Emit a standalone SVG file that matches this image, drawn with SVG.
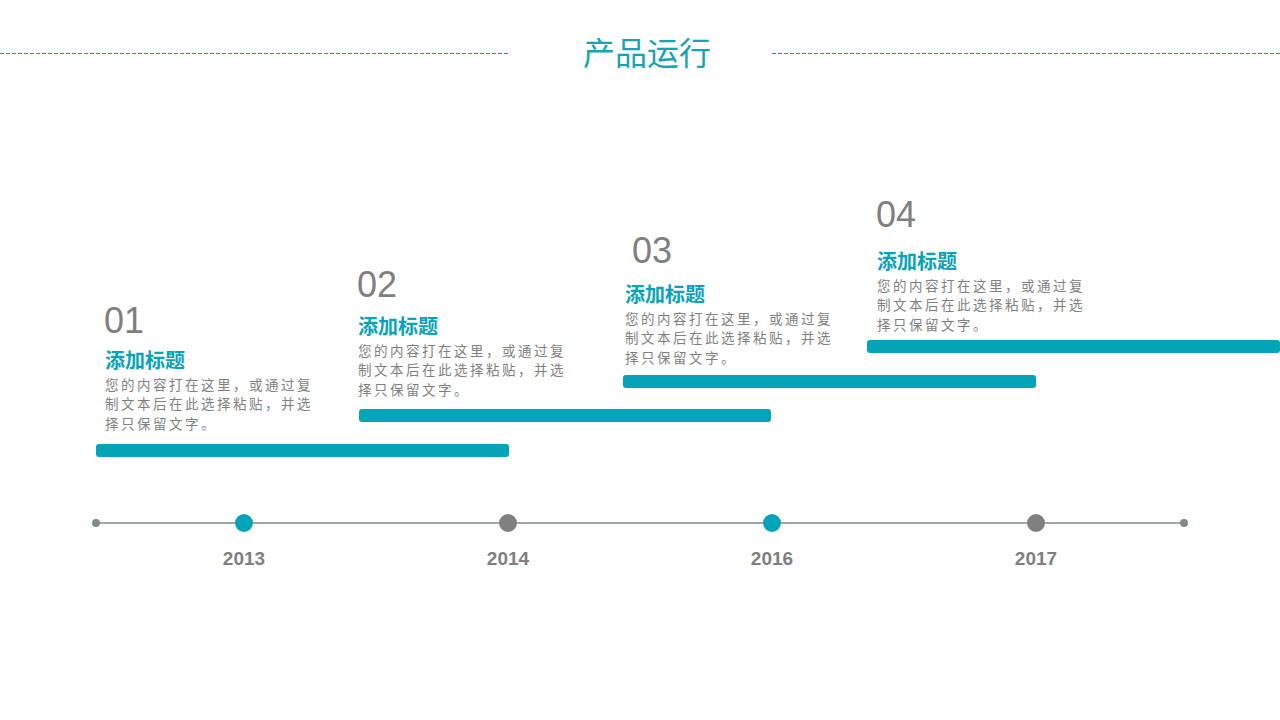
<svg xmlns="http://www.w3.org/2000/svg" width="1280" height="720" viewBox="0 0 1280 720">
<style>
.num{font-family:"Liberation Sans",Arial,sans-serif;font-size:36px;fill:#7f7f7f;}
.ttl{font-family:"Noto Sans CJK SC","Liberation Sans",sans-serif;font-size:20px;font-weight:bold;fill:#07a3b9;}
.body{font-family:"Noto Sans CJK SC","Liberation Sans",sans-serif;font-size:13.5px;letter-spacing:2.5px;fill:#7f7f7f;}
.year{font-family:"Liberation Sans",Arial,sans-serif;font-size:19px;font-weight:bold;fill:#7f7f7f;text-anchor:middle;}
.bar{fill:#05a4b9;}
.dash{stroke:#00a3b8;stroke-width:1.2;stroke-dasharray:4 2;}
</style>
<rect width="1280" height="720" fill="#ffffff"/>
<g id="header">
<line class="dash" x1="0" y1="53.5" x2="508" y2="53.5"/>
<line class="dash" x1="772" y1="53.5" x2="1280" y2="53.5"/>
<text x="647" y="65" text-anchor="middle" font-family="Noto Sans CJK SC,Liberation Sans,sans-serif" font-size="32" fill="#1aa2b3">产品运行</text>
</g>
<g id="connectors">
<line x1="96" y1="523" x2="1184" y2="523" stroke="#7f8c8c" stroke-width="1.5"/>
<circle cx="96" cy="523" r="4" fill="#7f8c8c"/>
<circle cx="1184" cy="523" r="4" fill="#7f8c8c"/>
</g>
<g id="node-2013">
<circle cx="244" cy="523" r="9" fill="#05a4b9"/>
<text class="year" x="244" y="565">2013</text>
</g>
<g id="node-2014">
<circle cx="508" cy="523" r="9" fill="#808080"/>
<text class="year" x="508" y="565">2014</text>
</g>
<g id="node-2016">
<circle cx="772" cy="523" r="9" fill="#05a4b9"/>
<text class="year" x="772" y="565">2016</text>
</g>
<g id="node-2017">
<circle cx="1036" cy="523" r="9" fill="#808080"/>
<text class="year" x="1036" y="565">2017</text>
</g>
<g id="step-01">
<rect class="bar" x="96" y="444" width="413" height="13" rx="3"/>
<text class="num" x="104" y="333">01</text>
<text class="ttl" x="105" y="368">添加标题</text>
<text class="body" x="105" y="389.5">您的内容打在这里，或通过复</text>
<text class="body" x="105" y="409">制文本后在此选择粘贴，并选</text>
<text class="body" x="105" y="428.5">择只保留文字。</text>
</g>
<g id="step-02">
<rect class="bar" x="359" y="409" width="412" height="13" rx="3"/>
<text class="num" x="357" y="297">02</text>
<text class="ttl" x="358" y="334">添加标题</text>
<text class="body" x="358" y="355.5">您的内容打在这里，或通过复</text>
<text class="body" x="358" y="375">制文本后在此选择粘贴，并选</text>
<text class="body" x="358" y="394.5">择只保留文字。</text>
</g>
<g id="step-03">
<rect class="bar" x="623" y="375" width="413" height="13" rx="3"/>
<text class="num" x="632" y="263">03</text>
<text class="ttl" x="625" y="302">添加标题</text>
<text class="body" x="625" y="323.5">您的内容打在这里，或通过复</text>
<text class="body" x="625" y="343">制文本后在此选择粘贴，并选</text>
<text class="body" x="625" y="362.5">择只保留文字。</text>
</g>
<g id="step-04">
<rect class="bar" x="867" y="340" width="413" height="13" rx="3"/>
<text class="num" x="876" y="227">04</text>
<text class="ttl" x="877" y="269">添加标题</text>
<text class="body" x="877" y="290.5">您的内容打在这里，或通过复</text>
<text class="body" x="877" y="310">制文本后在此选择粘贴，并选</text>
<text class="body" x="877" y="329.5">择只保留文字。</text>
</g>
</svg>
